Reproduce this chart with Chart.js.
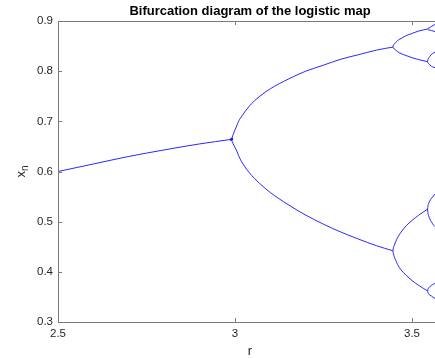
<!DOCTYPE html>
<html>
<head>
<meta charset="utf-8">
<script src="https://cdn.jsdelivr.net/npm/chart.js@4/dist/chart.umd.min.js"></script>
<style>
  html, body { margin: 0; padding: 0; background: #fff; overflow: hidden; }
  #wrap { width: 435px; height: 358px; }
</style>
</head>
<body>
<div id="wrap"><canvas id="chart" width="435" height="358"></canvas></div>
<script>
// values
const xTicks = [2.5, 3, 3.5];
const yTicks = [0.3, 0.4, 0.5, 0.6, 0.7, 0.8, 0.9];

// period 1 (fixed point)
const r1 = [2.5, 2.6, 2.7, 2.8, 2.9, 2.99];
const p1 = [0.600, 0.615, 0.630, 0.643, 0.655, 0.664];

// period 2 (the fork is smeared a little before r = 3)
const r2 = [2.99, 2.995, 3.0, 3.005, 3.01, 3.02, 3.04, 3.07, 3.1, 3.15, 3.2, 3.25, 3.3, 3.35, 3.4, 3.446];
const p2Upper = [0.664, 0.674, 0.683, 0.691, 0.700, 0.711, 0.730, 0.750, 0.765, 0.784, 0.800, 0.812, 0.824, 0.833, 0.842, 0.848];
const p2Lower = [0.664, 0.655, 0.648, 0.641, 0.632, 0.618, 0.598, 0.576, 0.558, 0.534, 0.513, 0.495, 0.479, 0.465, 0.452, 0.442];

// short dark smear right at the first fork
const rSmear = [2.986, 2.99, 2.994];
const pSmear = [0.663, 0.664, 0.666];

// period 4
const r4 = [3.446, 3.4475, 3.45, 3.454, 3.459, 3.469, 3.484, 3.4995, 3.519, 3.544];
const p4A = [0.848, 0.852, 0.854, 0.857, 0.861, 0.865, 0.871, 0.875, 0.880, 0.884];
const p4B = [0.848, 0.846, 0.844, 0.842, 0.839, 0.835, 0.831, 0.827, 0.823, 0.819];
const p4C = [0.442, 0.448, 0.453, 0.460, 0.468, 0.479, 0.492, 0.502, 0.513, 0.525];
const p4D = [0.442, 0.436, 0.430, 0.423, 0.415, 0.404, 0.393, 0.383, 0.373, 0.362];

// period 8
const r8 = [3.544, 3.545, 3.547, 3.55, 3.5546, 3.56, 3.565];
const p8A1 = [0.884, 0.885, 0.886, 0.887, 0.889, 0.891, 0.893];
const p8A2 = [0.884, 0.883, 0.882, 0.882, 0.881, 0.880, 0.879];
const p8B1 = [0.819, 0.823, 0.826, 0.829, 0.833, 0.836, 0.838];
const p8B2 = [0.819, 0.817, 0.815, 0.813, 0.810, 0.808, 0.807];
const p8C1 = [0.525, 0.531, 0.536, 0.541, 0.546, 0.551, 0.555];
const p8C2 = [0.525, 0.518, 0.512, 0.506, 0.500, 0.494, 0.490];
const p8D1 = [0.362, 0.365, 0.368, 0.370, 0.373, 0.375, 0.377];
const p8D2 = [0.362, 0.359, 0.356, 0.354, 0.352, 0.349, 0.347];

const branches = [
    [r1, p1],
    [r2, p2Upper], [r2, p2Lower],
    [r4, p4A], [r4, p4B], [r4, p4C], [r4, p4D],
    [r8, p8A1], [r8, p8A2], [r8, p8B1], [r8, p8B2],
    [r8, p8C1], [r8, p8C2], [r8, p8D1], [r8, p8D2]
];

const FONT = "'Liberation Sans', Arial, Helvetica, sans-serif";
const AXIS_COLOR = "#7a7a7a";
const TEXT_COLOR = "#262626";
const LINE_COLOR = "#1010ff";

const datasets = branches.map(([rs, xs]) => ({
    data: rs.map((r, i) => ({ x: r, y: xs[i] })),
    borderColor: LINE_COLOR,
    borderWidth: 0.9,
    pointRadius: 0,
    cubicInterpolationMode: "monotone",
    fill: false
}));
datasets.push({
    data: rSmear.map((r, i) => ({ x: r, y: pSmear[i] })),
    borderColor: LINE_COLOR,
    borderWidth: 2.2,
    pointRadius: 0,
    fill: false
});

// axes box, inward ticks, title and axis labels (MATLAB look)
const matlabAxes = {
    id: "matlabAxes",
    afterDraw(chart) {
        const { ctx, chartArea: a, scales: { x, y } } = chart;
        ctx.save();
        ctx.strokeStyle = AXIS_COLOR;
        ctx.lineWidth = 1;
        ctx.beginPath();
        ctx.moveTo(a.left + 0.5, a.top);
        ctx.lineTo(a.left + 0.5, a.bottom + 1);
        ctx.moveTo(a.left, a.bottom + 0.5);
        ctx.lineTo(a.right, a.bottom + 0.5);
        ctx.moveTo(a.left, a.top + 0.5);
        ctx.lineTo(a.right, a.top + 0.5);
        xTicks.forEach(v => {
            const px = Math.round(x.getPixelForValue(v)) + 0.5;
            ctx.moveTo(px, a.bottom);
            ctx.lineTo(px, a.bottom - 4);
            ctx.moveTo(px, a.top);
            ctx.lineTo(px, a.top + 4);
        });
        yTicks.forEach(v => {
            const py = Math.round(y.getPixelForValue(v)) + 0.5;
            ctx.moveTo(a.left, py);
            ctx.lineTo(a.left + 4, py);
        });
        ctx.stroke();

        // title
        ctx.fillStyle = "#000";
        ctx.textAlign = "center";
        ctx.textBaseline = "middle";
        ctx.font = "bold 13px " + FONT;
        ctx.fillText("Bifurcation diagram of the logistic map", 250, 11);

        // x label
        ctx.fillStyle = TEXT_COLOR;
        ctx.font = "13px " + FONT;
        ctx.fillText("r", 250, 351);

        // y label x_n
        ctx.translate(21, (a.top + a.bottom) / 2);
        ctx.rotate(-Math.PI / 2);
        ctx.textAlign = "left";
        ctx.font = "13px " + FONT;
        const wx = ctx.measureText("x").width;
        const wn = ctx.measureText("n").width * 0.75;
        const start = -(wx + wn) / 2;
        ctx.fillText("x", start, 0);
        ctx.font = "10px " + FONT;
        ctx.fillText("n", start + wx, 4);
        ctx.restore();
    }
};

new Chart(document.getElementById("chart"), {
    type: "line",
    data: { datasets },
    plugins: [matlabAxes],
    options: {
        responsive: false,
        animation: false,
        devicePixelRatio: 1,
        layout: { padding: { top: 21, right: 0, left: 0, bottom: 0 } },
        plugins: {
            legend: { display: false },
            title: { display: false },
            tooltip: { enabled: false }
        },
        scales: {
            x: {
                type: "linear",
                min: 2.5,
                max: 3.565,
                afterBuildTicks: s => { s.ticks = xTicks.map(v => ({ value: v })); },
                afterFit: s => { s.height = 36; },
                grid: { display: false, drawTicks: false },
                border: { display: false },
                ticks: {
                    color: TEXT_COLOR,
                    font: { family: FONT, size: 11.5 },
                    padding: 5,
                    maxRotation: 0,
                    callback: v => String(v)
                }
            },
            y: {
                type: "linear",
                min: 0.3,
                max: 0.9,
                afterBuildTicks: s => { s.ticks = yTicks.map(v => ({ value: v })); },
                afterFit: s => { s.width = 58; },
                grid: { display: false, drawTicks: false },
                border: { display: false },
                ticks: {
                    color: TEXT_COLOR,
                    font: { family: FONT, size: 11.5 },
                    padding: 5,
                    callback: v => v.toFixed(1)
                }
            }
        }
    }
});
</script>
</body>
</html>
